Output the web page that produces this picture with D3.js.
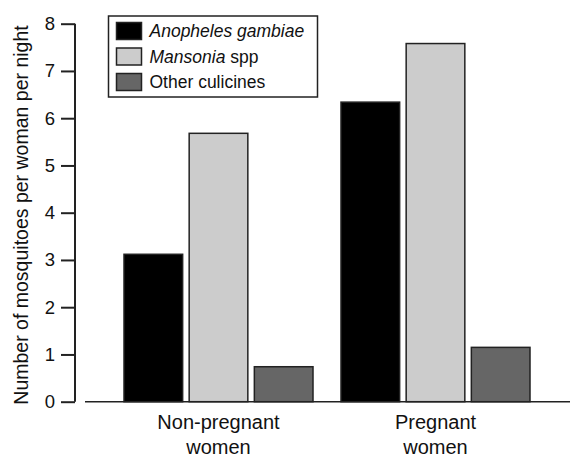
<!DOCTYPE html>
<html>
<head>
<meta charset="utf-8">
<script src="https://cdn.jsdelivr.net/npm/d3@7"></script>
<style>
  body { margin: 0; background: #fff; }
  svg text { font-family: "Liberation Sans", Arial, sans-serif; fill: #111; }
</style>
</head>
<body>
<div id="chart"></div>
<script>
// values
var groups = ["Non-pregnant women", "Pregnant women"];
var groupLines = [["Non-pregnant", "women"], ["Pregnant", "women"]];
var species = ["Anopheles gambiae", "Mansonia spp", "Other culicines"];
var anopheles = [3.12, 6.34];
var mansonia = [5.68, 7.58];
var culicines = [0.74, 1.15];
var yTicks = [0, 1, 2, 3, 4, 5, 6, 7, 8];

var width = 570, height = 457;
var margin = {top: 23.7, right: 0, bottom: 55.3, left: 75};

var svg = d3.select("#chart")
  .append("svg")
    .attr("width", width)
    .attr("height", height);

var colors = d3.scaleOrdinal()
  .domain(species)
  .range(["#000000", "#cccccc", "#666666"]);

var x0 = d3.scaleBand()
  .domain(groups)
  .range([124, 530])
  .paddingInner(0.129)
  .paddingOuter(0);

var x1 = d3.scaleBand()
  .domain(species)
  .range([0, x0.bandwidth()])
  .paddingInner(0.1);

var y = d3.scaleLinear()
  .domain([0, 8])
  .range([height - margin.bottom, margin.top]);

var table = groups.map(function(g, i) {
  return {group: g, values: [anopheles[i], mansonia[i], culicines[i]]};
});

// bars
var gg = svg.append("g").selectAll("g")
  .data(table)
  .enter()
  .append("g")
  .attr("transform", function(d) { return "translate(" + x0(d.group) + ",0)"; });

gg.selectAll("rect")
  .data(function(d) { return d.values.map(function(v, j) { return {s: species[j], v: v}; }); })
  .enter()
  .append("rect")
  .attr("x", function(d) { return x1(d.s); })
  .attr("width", x1.bandwidth())
  .attr("y", function(d) { return y(d.v); })
  .attr("height", function(d) { return y(0) - y(d.v); })
  .attr("fill", function(d) { return colors(d.s); })
  .attr("stroke", "#222")
  .attr("stroke-width", 1.5);

// baseline
svg.append("line")
  .attr("x1", 85).attr("x2", width)
  .attr("y1", y(0)).attr("y2", y(0))
  .attr("stroke", "#222")
  .attr("stroke-width", 1.5);

// y axis
var yAxis = svg.append("g")
  .attr("transform", "translate(" + margin.left + ",0)")
  .call(d3.axisLeft(y).tickValues(yTicks).tickSize(14).tickPadding(6));
yAxis.select(".domain").attr("stroke", "#222").attr("stroke-width", 2)
  .attr("d", "M0," + y(0) + "V" + y(8));
yAxis.selectAll(".tick line").attr("stroke", "#222").attr("stroke-width", 2);
yAxis.selectAll(".tick text")
  .style("font-size", "18.5px")
  .attr("fill", "#111");

// y title
svg.append("text")
  .attr("transform", "translate(28," + 215 + ")rotate(-90)")
  .attr("text-anchor", "middle")
  .style("font-size", "19.5px")
  .text("Number of mosquitoes per woman per night");

// x labels
var xl = svg.append("g").selectAll("text")
  .data(groups)
  .enter()
  .append("text")
  .attr("text-anchor", "middle")
  .attr("x", function(d) { return x0(d) + x0.bandwidth() / 2; })
  .attr("y", 429)
  .style("font-size", "20px");
xl.each(function(d, i) {
  var t = d3.select(this);
  groupLines[i].forEach(function(line, k) {
    t.append("tspan")
      .attr("x", x0(d) + x0.bandwidth() / 2)
      .attr("dy", k === 0 ? 0 : 25)
      .text(line);
  });
});

// legend
var legend = svg.append("g").attr("transform", "translate(108.5,16)");
legend.append("rect")
  .attr("width", 209).attr("height", 81)
  .attr("fill", "#fff")
  .attr("stroke", "#222")
  .attr("stroke-width", 1.5);

var items = legend.selectAll("g.item")
  .data(species)
  .enter()
  .append("g")
  .attr("class", "item")
  .attr("transform", function(d, i) { return "translate(8," + (6.5 + i * 25.5) + ")"; });

items.append("rect")
  .attr("width", 25).attr("height", 17)
  .attr("fill", function(d) { return colors(d); })
  .attr("stroke", "#222")
  .attr("stroke-width", 1.5);

var lt = items.append("text")
  .attr("x", 33)
  .attr("y", 14.5)
  .style("font-size", "17.5px");
lt.append("tspan")
  .style("font-style", "italic")
  .text(function(d, i) { return i === 0 ? "Anopheles gambiae" : (i === 1 ? "Mansonia" : ""); });
lt.append("tspan")
  .style("font-style", "normal")
  .text(function(d, i) { return i === 0 ? "" : (i === 1 ? " spp" : "Other culicines"); });
</script>
</body>
</html>
